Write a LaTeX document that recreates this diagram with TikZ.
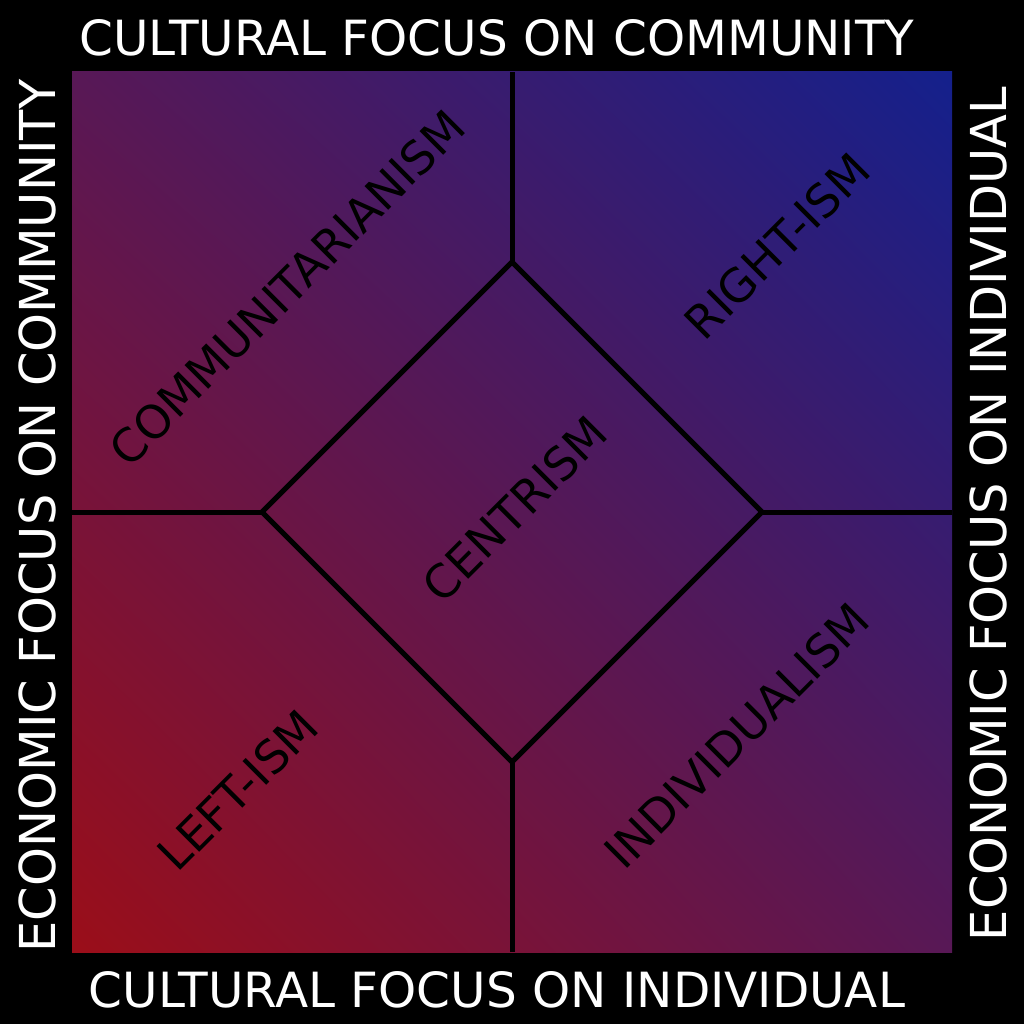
\documentclass[tikz,border=0pt]{standalone}
\usepackage{fontspec}
\setmainfont{DejaVu Sans}
\usetikzlibrary{shadings}
\begin{document}
\begin{tikzpicture}[x=1pt,y=-1pt,
  outer/.style={text=white,font=\fontsize{48.5}{52}\selectfont,inner sep=0pt},
  side/.style={outer,font=\fontsize{49.5}{52}\selectfont,rotate=90},
  inner/.style={text=black,font=\fontsize{46}{50}\selectfont,inner sep=0pt,rotate=45},
  sep/.style={line width=5pt,black}]
\fill[black] (0,0) rectangle (1024,1024);
\useasboundingbox (0,0) rectangle (1024,1024);
\definecolor{cbl}{RGB}{155,14,25}
\definecolor{ctr}{RGB}{20,32,140}
\definecolor{cmid}{RGB}{88,24,86}
\shade[lower left=cbl,upper right=ctr,upper left=cmid,lower right=cmid] (72,72) rectangle (952,952);
\coordinate (dt) at (512,262);
\coordinate (dr) at (762,512);
\coordinate (db) at (512,762);
\coordinate (dl) at (262,512);
\coordinate (et) at (512,72);
\coordinate (er) at (952,512);
\coordinate (eb) at (512,952);
\coordinate (el) at (72,512);
\draw[sep,line join=miter] (dt) -- (dr) -- (db) -- (dl) -- cycle;
\draw[sep] (et) -- (dt);
\draw[sep] (er) -- (dr);
\draw[sep] (eb) -- (db);
\draw[sep] (el) -- (dl);
\node[outer] (top) at (497,38) {CULTURAL FOCUS ON COMMUNITY};
\node[outer] (bot) at (497,990) {CULTURAL FOCUS ON INDIVIDUAL};
\node[side] (lft) at (37,516) {ECONOMIC FOCUS ON COMMUNITY};
\node[side] (rgt) at (988,514) {ECONOMIC FOCUS ON INDIVIDUAL};
\node[inner] (comm) at (287,288) {COMMUNITARIANISM};
\node[inner] (right) at (777,246) {RIGHT-ISM};
\node[inner] (cent) at (515,509) {CENTRISM};
\node[inner] (left) at (238,790) {LEFT-ISM};
\node[inner] (indiv) at (737,736) {INDIVIDUALISM};
\end{tikzpicture}
\end{document}
